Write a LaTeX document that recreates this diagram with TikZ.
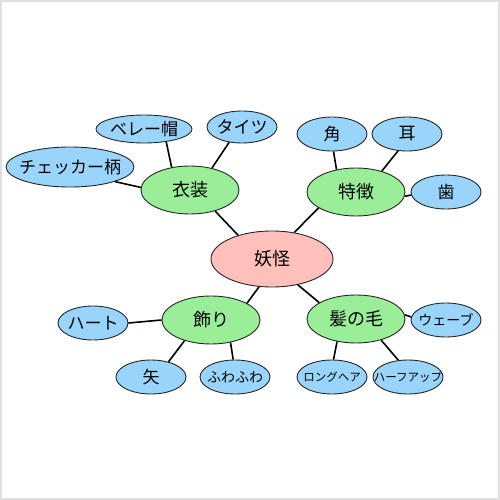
\documentclass[tikz,border=0pt]{standalone}
\usepackage{fontspec}
\newfontfamily\jp{Noto Sans CJK JP}
\usetikzlibrary{shapes.geometric}
\definecolor{rootc}{RGB}{255,191,186}
\definecolor{midc}{RGB}{154,238,152}
\definecolor{leafc}{RGB}{153,213,250}
\newcommand{\zw}[1]{\makebox[0pt][c]{#1}}
\begin{document}
\begin{tikzpicture}[x=1pt,y=-1pt,
  bub/.style={ellipse, draw=black!85, line width=0.9pt, inner sep=0pt},
  rootn/.style={bub, fill=rootc, minimum width=122pt, minimum height=56pt, font=\jp\fontsize{18}{18}\selectfont},
  midn/.style={bub, fill=midc, minimum width=98pt, minimum height=48pt, font=\jp\fontsize{18}{18}\selectfont},
  leafn/.style={bub, fill=leafc, minimum width=70pt, minimum height=34pt, font=\jp\fontsize{17}{17}\selectfont},
  leafm/.style={leafn, font=\jp\fontsize{14}{14}\selectfont},
  leafs/.style={leafn, font=\jp\fontsize{11.5}{11.5}\selectfont},
  link/.style={draw=black, line width=1.6pt}]
\useasboundingbox (0,0) rectangle (500,500);
\draw[black!12, line width=1.5pt] (1,1) rectangle (499,499);

\node[rootn] (root) at (272,259) {\zw{妖怪}};

\node[midn] (cloth) at (190,190) {\zw{衣装}};
\node[midn] (feat) at (356,192) {\zw{特徴}};
\node[midn] (deco) at (211,320) {\zw{飾り}};
\node[midn] (hair) at (356,319) {\zw{髪の毛}};

\node[leafn, minimum width=96pt, minimum height=28pt] (beret) at (144,129) {\zw{ベレー帽}};
\node[leafn, minimum width=128pt, minimum height=40pt] (check) at (70,167) {\zw{チェッカー柄}};
\node[leafn, minimum height=32pt] (tights) at (242,127) {\zw{タイツ}};

\node[leafn] (horn) at (332,134) {\zw{角}};
\node[leafn] (ear) at (407,134) {\zw{耳}};
\node[leafn] (tooth) at (446,192) {\zw{歯}};

\node[leafn] (heart) at (93,323) {\zw{ハート}};
\node[leafn] (arrow) at (151,377) {\zw{矢}};
\node[leafm] (fuwa) at (235,377) {\zw{ふわふわ}};

\node[leafm] (wave) at (446,320) {\zw{ウェーブ}};
\node[leafs] (long) at (332,377) {\zw{ロングヘア}};
\node[leafs] (half) at (408,377) {\zw{ハーフアップ}};

\path[link] (root.145) -- (cloth.-40);
\path[link] (root.50) -- (feat.-157);
\path[link] (root.-115) -- (deco.25);
\path[link] (root.-45) -- (hair.156);

\path[link] (cloth.129) -- (beret.-30);
\path[link] (cloth.45) -- (tights.-130);
\path[link] (cloth.177) -- (check.-18);

\path[link] (feat.131) -- (horn.-85);
\path[link] (feat.39) -- (ear.-118);
\path[link] (feat.-5) -- (tooth.-175);

\path[link] (deco.180) -- (heart.0);
\path[link] (deco.-142) -- (arrow.41);
\path[link] (deco.-49) -- (fuwa.96);

\path[link] (hair.5) -- (wave.175);
\path[link] (hair.-130) -- (long.85);
\path[link] (hair.-40) -- (half.120);
\end{tikzpicture}
\end{document}
